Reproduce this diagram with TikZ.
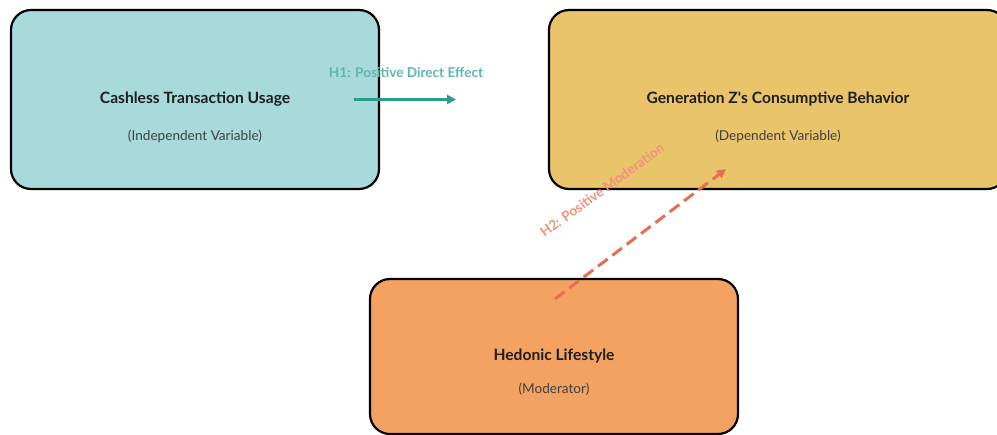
\documentclass[tikz,border=0pt]{standalone}
\usepackage{fontspec}
\setmainfont{Lato}
\usetikzlibrary{arrows.meta}
\definecolor{cashlessfill}{HTML}{A8DADC}
\definecolor{behaviorfill}{HTML}{E9C46A}
\definecolor{hedonicfill}{HTML}{F4A261}
\definecolor{directcol}{HTML}{2A9D8F}
\definecolor{modcol}{HTML}{E76F51}
\definecolor{textcol}{HTML}{1E1E1E}

\begin{document}
\begin{tikzpicture}[x=1pt,y=-1pt,
	varbox/.style={draw=black,line width=2.2pt,rounded corners=20pt,text=textcol,font=\bfseries\fontsize{15.6}{18}\selectfont},
	subtext/.style={text=textcol!85,font=\fontsize{13.6}{16}\selectfont},
	direct/.style={draw=directcol,line width=3.5pt,-{Triangle[length=9pt,width=9pt]}},
	moderation/.style={draw=modcol,line width=3pt,dash pattern=on 12pt off 6pt,-{Triangle[length=9pt,width=9pt]}},
	hyplabel/.style={font=\bfseries\fontsize{13.6}{16}\selectfont}]
	\useasboundingbox (0,0) rectangle (997,435);

	% variables
	\node[varbox,fill=cashlessfill,minimum width=368pt,minimum height=179pt] (cashless) at (195,99.5) {Cashless Transaction Usage};
	\node[subtext] (cashless sub) at ([yshift=-37pt]cashless.center) {(Independent Variable)};

	\node[varbox,fill=behaviorfill,minimum width=458pt,minimum height=179pt] (behavior) at (778,99.5) {Generation Z\textquotesingle s Consumptive Behavior};
	\node[subtext] (behavior sub) at ([yshift=-37pt]behavior.center) {(Dependent Variable)};

	\node[varbox,fill=hedonicfill,minimum width=368pt,minimum height=155pt] (hedonic) at (554,356.5) {Hedonic Lifestyle};
	\node[subtext] (hedonic sub) at ([yshift=-33pt]hedonic.center) {(Moderator)};

	% hypotheses
	\coordinate (h1 start) at ([xshift=-26pt]cashless.east);
	\coordinate (h1 end) at ([xshift=76pt]cashless.east);
	\draw[direct] (h1 start) -- (h1 end);
	\node[hyplabel,text=directcol!75] (h1) at (406,73) {H1: Positive Direct Effect};

	\coordinate (h2 start) at ([xshift=1pt,yshift=-21pt]hedonic.north);
	\coordinate (h2 end) at ([xshift=-52pt,yshift=21pt]behavior.south);
	\draw[moderation] (h2 start) -- (h2 end);
	\node[hyplabel,text=modcol!75,rotate=36] (h2) at (602,190) {H2: Positive Moderation};
\end{tikzpicture}
\end{document}
